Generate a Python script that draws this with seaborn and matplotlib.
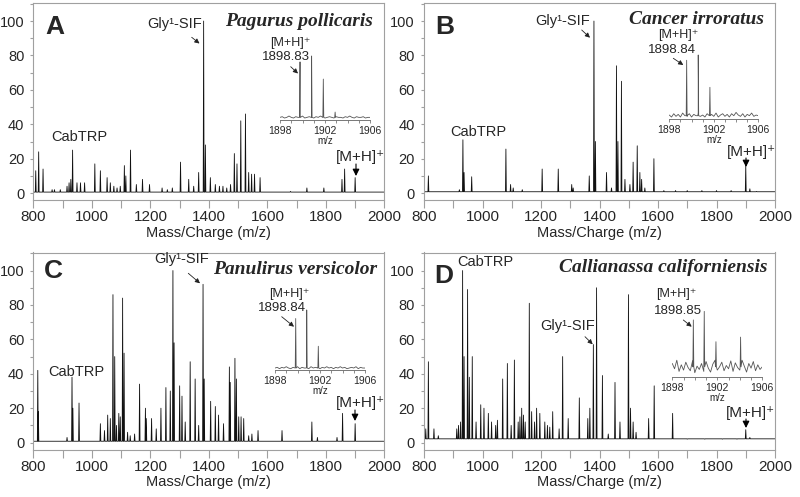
import numpy as np
import pandas as pd
import seaborn as sns
import matplotlib.pyplot as plt
from matplotlib.ticker import MultipleLocator

# ---- main spectra: peak m/z and relative intensity (%) ----
a_mz = [808, 818, 833, 864, 872, 892, 915, 922, 928, 934, 949, 961, 975, 1010, 1029, 1052, 1063, 1075, 1086, 1097,
        1111, 1116, 1132, 1152, 1173, 1197, 1240, 1258, 1275, 1303, 1331, 1348, 1365, 1382, 1388, 1405, 1422, 1436,
        1448, 1461, 1474, 1487, 1496, 1509, 1525, 1536, 1546, 1556, 1575, 1679, 1735, 1793, 1855, 1864, 1900]
a_int = [13, 24, 14, 2, 2, 2, 4, 6, 8, 25, 6, 6, 6, 17, 13, 9, 6, 4, 3, 4,
         16, 10, 25, 5, 8, 5, 3, 2, 3, 18, 8, 4, 12, 100, 28, 9, 5, 4,
         4, 3, 5, 23, 17, 42, 46, 12, 11, 11, 9, 1, 3, 3, 8, 14, 9]

b_mz = [815, 921, 933, 937, 963, 1080, 1096, 1105, 1136, 1204, 1259, 1305, 1310, 1365, 1381, 1386, 1424, 1441, 1458,
        1463, 1475, 1487, 1504, 1515, 1529, 1538, 1544, 1555, 1586, 1620, 1660, 1700, 1750, 1800, 1850, 1900, 1914, 1937]
b_int = [10, 2, 31, 12, 9.5, 25.6, 5, 3, 2, 14, 14, 5, 3, 10, 100, 30, 12, 3, 74,
         30, 65, 8, 5, 18, 27.5, 12, 8, 3, 20, 1.5, 1.5, 1.5, 1.5, 1.5, 1.5, 16, 2.5, 1]

c_mz = [815, 817, 915, 932, 935, 956, 1029, 1043, 1054, 1063, 1072, 1078, 1084, 1092, 1097, 1105, 1110, 1122, 1131,
        1146, 1163, 1183, 1186, 1204, 1220, 1236, 1253, 1268, 1277, 1281, 1300, 1308, 1319, 1336, 1353, 1365, 1380,
        1384, 1406, 1422, 1433, 1450, 1470, 1473, 1489, 1494, 1502, 1510, 1519, 1536, 1547, 1568, 1650, 1752, 1771,
        1838, 1857, 1900]
c_int = [42, 18, 3, 38, 20, 23, 11, 7, 16, 14, 86, 50, 10, 17, 15, 84, 52, 6, 4,
         5, 34, 20, 14, 14, 8, 20, 32, 30, 100, 58, 33, 27, 12, 47, 37, 10, 92,
         37, 24, 21, 16, 11, 44, 35, 49, 37, 15, 15, 14, 4, 5, 7, 7, 12, 3,
         3, 17, 11]

d_mz = [806, 815, 834, 849, 912, 918, 925, 932, 937, 949, 955, 965, 978, 994, 1005, 1020, 1031, 1045, 1051, 1069,
        1085, 1098, 1109, 1122, 1128, 1134, 1140, 1146, 1160, 1168, 1178, 1185, 1196, 1213, 1222, 1230, 1240, 1262,
        1274, 1293, 1331, 1360, 1367, 1379, 1390, 1410, 1430, 1453, 1470, 1499, 1506, 1515, 1525, 1568, 1587, 1650,
        1700, 1760, 1820, 1870, 1900, 1914]
d_int = [8, 47, 8, 4, 8, 10, 12, 100, 50, 89, 38, 50, 12, 22, 20, 17, 12, 10, 13, 37,
         46, 10, 48, 12, 15, 20, 16, 12, 81, 18, 12, 20, 17, 12, 10, 9, 18, 8,
         50, 14, 26, 14, 20, 57, 90, 39, 5, 35, 12, 86, 20, 12, 6, 14, 33, 17,
         2, 2, 2, 2, 7.5, 3]

# ---- insets: [M+H]+ isotope cluster and baseline noise (0.2 m/z steps, 1898-1906) ----
a_iso_mz = [1899.78, 1900.81, 1901.85, 1902.9]
a_iso_int = [88, 97, 62, 12]
b_iso_mz = [1899.56, 1900.6, 1901.65]
b_iso_int = [89, 97, 48]
c_iso_mz = [1899.84, 1900.82, 1901.85]
c_iso_int = [78, 91, 36]
d_iso_mz = [1899.87, 1900.84, 1901.88, 1904.07]
d_iso_int = [86, 99, 53, 60]

a_noise = [4, 5, 3, 4, 6, 4, 3, 5, 4, 4, 6, 3, 4, 5, 4, 3, 5, 4, 6, 4, 3, 4, 5, 4, 3, 5, 4, 4, 3, 5, 4, 6, 4, 3, 5, 4, 4, 5, 3, 4, 4]
b_noise = [6, 3, 8, 4, 7, 3, 9, 5, 4, 8, 3, 7, 5, 9, 4, 6, 3, 8, 5, 7, 4, 9, 3, 6, 8, 4, 7, 3, 8, 5, 10, 6, 4, 8, 3, 7, 5, 9, 4, 6, 5]
c_noise = [3, 4, 2, 4, 3, 5, 3, 2, 4, 3, 5, 2, 4, 3, 4, 2, 5, 3, 4, 3, 2, 4, 3, 5, 3, 4, 2, 4, 3, 5, 3, 4, 2, 3, 4, 3, 5, 2, 4, 3, 3]
d_noise = [20, 12, 25, 8, 18, 10, 22, 14, 9, 24, 6, 16, 11, 20, 8, 23, 13, 7, 19, 25, 10, 15, 22, 9, 17, 12, 24, 8, 21, 14,
           10, 25, 16, 7, 20, 13, 23, 9, 18, 11, 15]

species = ['Pagurus pollicaris', 'Cancer irroratus', 'Panulirus versicolor', 'Callianassa californiensis']
mass_labels = ['1898.83', '1898.84', '1898.84', '1898.85']

sns.set_style('ticks')
plt.rcParams['font.family'] = ['Liberation Sans', 'DejaVu Sans']

W, H = 800, 497


def fr(x, y):
    # pixel position (top-left origin) -> figure fraction
    return (x / W, 1 - y / H)


def spectrum(mz, inten, base, hw=1.5):
    xs, ys = [800.0], [base]
    for m, h in sorted(zip(mz, inten)):
        xs += [m - hw, m, m + hw]
        ys += [base, h, base]
    xs.append(2000.0)
    ys.append(base)
    return pd.DataFrame({'mz': xs, 'intensity': ys})


def cluster(mz, inten, noise, base):
    grid = np.linspace(1898, 1906, len(noise))
    pts = list(zip(grid, noise))
    for m, h in zip(mz, inten):
        pts += [(m - 0.04, base), (m, h), (m + 0.04, base)]
    pts.sort()
    return pd.DataFrame(pts, columns=['mz', 'intensity'])


def sup_label(xy, main, sup, size, ha='center'):
    # main text with a small raised superscript glyph
    t = fig.text(*fr(*xy), main, fontsize=size, ha=ha, va='center')
    return t


panels = [
    dict(letter='A', mz=a_mz, inten=a_int, base=0.6, ax_px=(33.4, 200),
         iso=(a_iso_mz, a_iso_int, a_noise, 4), ins_px=(280, 370, 120),
         let_xy=(55, 27), sp_xy=(373, 21), gly_xy=(175, 24), gly_arr=((191.7, 37.3), (199.5, 43.5)),
         cab_xy=(79, 137), mh_xy=(360, 157), mh_arr=((356, 164), (356, 176)),
         imh_xy=(290, 43), imass_xy=(286, 57), i_arr=((290.7, 66.7), (298, 73.5))),
    dict(letter='B', mz=b_mz, inten=b_int, base=0.8, ax_px=(424, 200),
         iso=(b_iso_mz, b_iso_int, b_noise, 5), ins_px=(669.3, 758.3, 119),
         let_xy=(445, 27.5), sp_xy=(764, 19), gly_xy=(563, 21), gly_arr=((581.7, 30), (590, 37.7)),
         cab_xy=(478, 131.7), mh_xy=(751, 151.7), mh_arr=((746, 158), (746, 167)),
         imh_xy=(678, 35), imass_xy=(671.7, 50), i_arr=((673.3, 58.3), (683.3, 65))),
    dict(letter='C', mz=c_mz, inten=c_int, base=0.8, ax_px=(33.4, 449.5),
         iso=(c_iso_mz, c_iso_int, c_noise, 3), ins_px=(275, 365, 370),
         let_xy=(53, 271), sp_xy=(376.7, 269), gly_xy=(181.7, 259), gly_arr=((188.3, 273.3), (200, 283.3)),
         cab_xy=(76.7, 371.7), mh_xy=(360.8, 403.3), mh_arr=((355, 410), (355, 421)),
         imh_xy=(289.3, 294), imass_xy=(282.3, 308.3), i_arr=((281.7, 316.7), (294, 326.7))),
    dict(letter='D', mz=d_mz, inten=d_int, base=2.2, ax_px=(424, 449.5),
         iso=(d_iso_mz, d_iso_int, d_noise, 15), ins_px=(672.3, 762.3, 376.7),
         let_xy=(444, 276), sp_xy=(767.7, 267.5), gly_xy=(567.5, 326), gly_arr=((585, 336.7), (592.7, 344.3)),
         cab_xy=(485.3, 262.5), mh_xy=(750.8, 413.3), mh_arr=((746, 419), (746, 428)),
         imh_xy=(676.7, 294.5), imass_xy=(677.5, 311), i_arr=((683.3, 320), (691.7, 326.7))),
]

fig = plt.figure(figsize=(8, 4.97), dpi=100)
frame_col = '#a0a0a0'

for p, sp, ml in zip(panels, species, mass_labels):
    x0, yb = p['ax_px']
    ax = fig.add_axes([x0 / W, 1 - yb / H, 351 / W, 197 / H])
    sns.lineplot(data=spectrum(p['mz'], p['inten'], p['base']), x='mz', y='intensity', ax=ax,
                 color='#111111', lw=0.6, estimator=None, sort=False)
    ax.set_xlim(800, 2000)
    ax.set_ylim(-4, 110.5)
    ax.xaxis.set_major_locator(MultipleLocator(200))
    ax.xaxis.set_minor_locator(MultipleLocator(100))
    ax.yaxis.set_minor_locator(MultipleLocator(10))
    ax.set_yticks([0, 20, 40, 60, 80, 100])
    ax.tick_params(axis='x', which='both', direction='out', length=5.5, width=0.8, color=frame_col,
                   labelsize=11, pad=2)
    ax.tick_params(axis='y', which='both', direction='out', length=2.5, width=0.8, color=frame_col,
                   labelsize=10.5, pad=4)
    for s in ax.spines.values():
        s.set_color(frame_col)
        s.set_linewidth(0.8)
    ax.set_xlabel('Mass/Charge (m/z)', fontsize=10.5, labelpad=1)
    ax.set_ylabel('')

    # inset with the isotope cluster
    ix0, ix1, iyb = p['ins_px']
    axi = fig.add_axes([ix0 / W, 1 - iyb / H, (ix1 - ix0) / W, 66 / H])
    axi.set_facecolor('none')
    imz, iint, inoise, ibase = p['iso']
    sns.lineplot(data=cluster(imz, iint, inoise, ibase), x='mz', y='intensity', ax=axi,
                 color='#555555', lw=0.6, estimator=None, sort=False)
    axi.set_xlim(1898, 1906)
    axi.set_ylim(0, 100)
    for side in ['top', 'right', 'left']:
        axi.spines[side].set_visible(False)
    axi.spines['bottom'].set_color('#777777')
    axi.spines['bottom'].set_linewidth(0.7)
    axi.set_yticks([])
    axi.set_xticks([1898, 1902, 1906])
    axi.xaxis.set_minor_locator(MultipleLocator(1))
    axi.tick_params(axis='x', which='both', direction='out', length=2.5, width=0.6, color='#777777',
                    labelsize=7.5, pad=2)
    axi.set_xlabel('m/z', fontsize=7, labelpad=0)
    axi.set_ylabel('')

    # labels
    fig.text(*fr(*p['let_xy']), p['letter'], fontsize=19, fontweight='bold', ha='center', va='center')
    fig.text(*fr(*p['sp_xy']), sp, fontsize=14, fontweight='bold', fontstyle='italic',
             family=['Liberation Serif', 'DejaVu Serif'], ha='right', va='center')
    fig.text(*fr(*p['gly_xy']), 'Gly\u00b9-SIF', fontsize=10.5, ha='center', va='center')
    fig.text(*fr(*p['cab_xy']), 'CabTRP', fontsize=10.5, ha='center', va='center')
    fig.text(*fr(*p['mh_xy']), '[M+H]\u207a', fontsize=11, ha='center', va='center')
    fig.text(*fr(*p['imh_xy']), '[M+H]\u207a', fontsize=9, ha='center', va='center')
    fig.text(*fr(*p['imass_xy']), ml, fontsize=9.5, ha='center', va='center')

    a0, a1 = p['gly_arr']
    ax.annotate('', xy=fr(*a1), xytext=fr(*a0), xycoords='figure fraction', textcoords='figure fraction',
                arrowprops=dict(arrowstyle='-|>', color='#222222', lw=0.6, mutation_scale=7,
                                shrinkA=0, shrinkB=0))
    a0, a1 = p['i_arr']
    ax.annotate('', xy=fr(*a1), xytext=fr(*a0), xycoords='figure fraction', textcoords='figure fraction',
                arrowprops=dict(arrowstyle='-|>', color='#222222', lw=0.6, mutation_scale=7,
                                shrinkA=0, shrinkB=0))
    a0, a1 = p['mh_arr']
    ax.annotate('', xy=fr(*a1), xytext=fr(*a0), xycoords='figure fraction', textcoords='figure fraction',
                arrowprops=dict(arrowstyle='-|>', color='black', lw=0.8, mutation_scale=10,
                                shrinkA=0, shrinkB=0))

fig.savefig('out.png', dpi=100)
